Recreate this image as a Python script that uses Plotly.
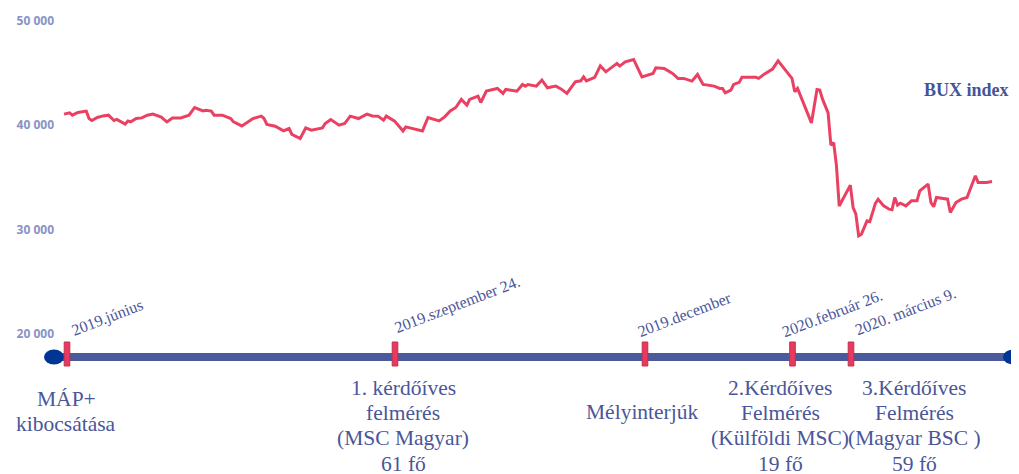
import pandas as pd
import plotly.graph_objects as go

# BUX index, napok 2019-06-01-tol szamolva
nap = [0, 2, 3, 5, 8, 9, 10, 12, 14, 16, 18, 19, 22, 23, 24, 26, 28, 30, 32, 35,
       37, 39, 42, 45, 47, 50, 51, 53, 54, 57, 60,
       61, 64, 68, 71, 72, 73, 76, 79, 81, 82, 85, 87, 89, 93, 94, 96, 99, 101, 103, 106,
       109, 111, 113, 115, 116, 119,
       120, 122, 123, 127, 129, 131, 135, 137, 139, 141, 143, 145, 146, 149, 150, 152, 156, 158, 159, 163,
       165, 166, 167, 170, 172, 174, 177, 179,
       181, 184, 186, 187, 188, 191, 193, 195, 197, 199, 200, 202, 205, 208, 212, 213, 216, 219, 221, 223,
       226, 228, 230, 234, 236, 237, 238,
       240, 241, 243, 244, 249, 250, 252, 255, 257, 258, 262, 263, 264, 269, 271, 272, 273, 275, 276, 277,
       278, 279, 283, 284, 285, 286, 287, 289, 290, 292, 293, 295, 297, 298, 299, 300, 301, 303, 305, 307,
       308, 311, 312, 313, 314, 318, 319, 321, 323, 325, 328, 329, 332, 334]
bux = [41060, 41180, 40960, 41220, 41350, 40640, 40450, 40740, 40890, 40960, 40450, 40550, 40100, 40410, 40320,
       40640, 40700, 40960, 41060, 40770, 40320, 40700, 40700, 40960, 41700, 41370, 41440, 41350, 40960, 40960, 40640,
       40320, 39930, 40640, 40870, 40640, 40070, 39900, 39450, 39680, 39130, 38720, 39740, 39520, 39740, 40160,
       40550, 40000, 40160, 40870, 40640, 41060, 40890, 40870, 40480, 40870, 40390,
       40100, 39450, 39840, 39590, 39450, 40740, 40410, 40800, 41370, 41700, 42470, 41920, 42470, 42790, 42180,
       43270, 43530, 43050, 43430, 43270, 43910, 43750, 43910, 43750, 44330, 43590, 43750, 43460,
       43050, 44160, 44260, 44640, 44260, 44590, 45700, 45120, 45510, 45930, 45670, 46080, 46310, 44640, 44970,
       45510, 45450, 44970, 44490, 44490, 44230, 44870, 43910, 43750, 43530, 43530, 43110,
       43370, 43910, 44110, 44590, 44590, 44490, 44900, 45380, 46180, 45830, 44490, 43210, 43530, 40220, 43430,
       43370, 42500, 41180, 38080, 38330, 36150, 32240, 34250, 32100, 31460, 29380, 29540, 30820, 30750, 32480,
       32900, 32260, 31940, 31880, 33060, 32330, 32520, 32260, 32740, 32740, 33700, 34350, 32580, 32170, 33060,
       32900, 31620, 32580, 32900, 33060, 35150, 34500, 34500, 34600]

y_ticks = [20000, 30000, 40000, 50000]

# idovonal
datumok = ['2019.június', '2019.szeptember 24.', '2019.december', '2020.február 26.', '2020. március 9.']
esemenyek = ['MÁP+<br>kibocsátása',
             '1. kérdőíves<br>felmérés<br>(MSC Magyar)<br>61 fő',
             'Mélyinterjúk',
             '2.Kérdőíves<br>Felmérés<br>(Külföldi MSC)<br>19 fő',
             '3.Kérdőíves<br>Felmérés<br>(Magyar BSC )<br>59 fő']

# the page body has an 8px margin, so the figure is drawn 8px in
OFF = 8
W, H = 1011, 466
L, T = 47, 13
PW, PH = W - L, H - T


def px(x):
    return (x - OFF - L) / PW


def py(y):
    return (H - (y - OFF)) / PH


datum = pd.Timestamp('2019-06-01') + pd.to_timedelta(nap, unit='D')

fig = go.Figure()
fig.add_trace(go.Scatter(x=datum, y=bux, mode='lines',
                         line=dict(color='#EA4163', width=3), hoverinfo='skip'))

blue = '#4A5699'
marker_x = [67, 395, 645, 792.5, 851]
date_pos = [(107, 318), (457, 305), (684, 314), (832, 313), (905, 311)]
label_pos = [(66, 399), (403, 388), (642, 412), (780, 388), (914, 388)]
line_step = 25.2

shapes = []
shapes.append(dict(type='line', xref='paper', yref='paper', x0=px(54), x1=px(1013),
                   y0=py(357), y1=py(357), line=dict(color='#4B5A9B', width=8)))
for cx in [54, 1013]:
    shapes.append(dict(type='circle', xref='paper', yref='paper', x0=px(cx - 10), x1=px(cx + 10),
                       y0=py(364.5), y1=py(349.5), fillcolor='#003594', line=dict(width=0)))
for mx in marker_x:
    shapes.append(dict(type='rect', xref='paper', yref='paper', x0=px(mx - 2.8), x1=px(mx + 2.8),
                       y0=py(366), y1=py(342), fillcolor='#E8395E', line=dict(color='#C4304F', width=1)))

annotations = [dict(text='<b>BUX index</b>', xref='paper', yref='paper', x=px(966), y=py(90),
                    xanchor='center', yanchor='middle', showarrow=False,
                    font=dict(family='Liberation Serif', size=18, color='#44549A'))]
for t, (ax, ay) in zip(datumok, date_pos):
    annotations.append(dict(text=t, xref='paper', yref='paper', x=px(ax), y=py(ay), textangle=-21,
                            xanchor='center', yanchor='middle', showarrow=False,
                            font=dict(family='Liberation Serif', size=16, color=blue)))
for t, (ax, ay) in zip(esemenyek, label_pos):
    for i, sor in enumerate(t.split('<br>')):
        annotations.append(dict(text=sor, xref='paper', yref='paper', x=px(ax), y=py(ay + i * line_step),
                                xanchor='center', yanchor='middle', showarrow=False,
                                font=dict(family='Liberation Serif', size=21.5, color=blue)))

fig.update_layout(
    width=W, height=H,
    margin=dict(l=L, r=0, t=T, b=0),
    plot_bgcolor='white', paper_bgcolor='white',
    showlegend=False,
    separators=', ',
    shapes=shapes,
    annotations=annotations,
    xaxis=dict(visible=False, automargin=False, range=['2019-05-28 18:00', '2020-05-09 17:00']),
    yaxis=dict(range=[6526, 50000], tickvals=y_ticks, tickformat=',d', showgrid=False,
               zeroline=False, showline=False, automargin=False,
               tickfont=dict(family='Open Sans', size=12, color='#8793C6', weight='bold')),
)

fig.write_html("out.html")
